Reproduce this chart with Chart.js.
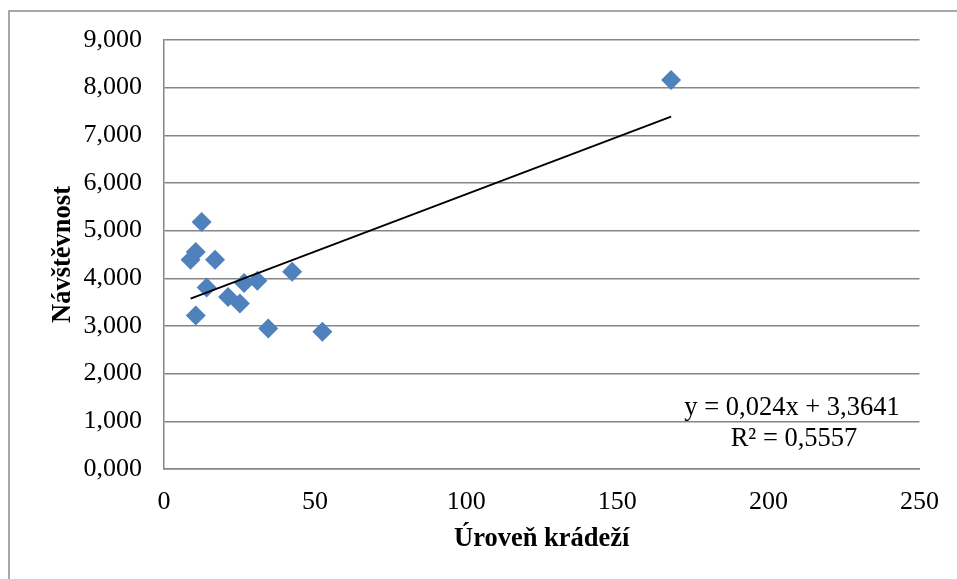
<!DOCTYPE html>
<html lang="cs">
<head>
    <meta charset="UTF-8">
    <title>Návštěvnost a úroveň krádeží</title>
    <script src="https://cdn.jsdelivr.net/npm/chart.js"></script>
    <style>
        html, body {
            margin: 0;
            padding: 0;
            background: #fff;
        }
        .chart-box {
            position: relative;
            width: 957px;
            height: 579px;
        }
    </style>
</head>
<body>
    <div class="chart-box">
        <canvas id="scatterChart"></canvas>
    </div>

    <script>
        // úroveň krádeží (x) a návštěvnost (y)
        const kradeze = [167.8, 12.45, 10.5, 8.8, 16.9, 14.1, 10.5, 21.2, 25.1, 26.5, 30.9, 42.4, 34.5, 52.4];
        const navstevnost = [8.16, 5.18, 4.55, 4.39, 4.39, 3.81, 3.22, 3.61, 3.47, 3.90, 3.95, 4.14, 2.95, 2.88];

        const yTickLabels = ["0,000", "1,000", "2,000", "3,000", "4,000", "5,000", "6,000", "7,000", "8,000", "9,000"];
        const xTickLabels = ["0", "50", "100", "150", "200", "250"];

        // lineární trend
        const slope = 0.024;
        const intercept = 3.3641;
        const rSquared = "0,5557";

        const points = kradeze.map((x, i) => ({ x: x, y: navstevnost[i] }));
        const xMin = Math.min(...kradeze);
        const xMax = Math.max(...kradeze);
        const trend = [
            { x: xMin, y: slope * xMin + intercept },
            { x: xMax, y: slope * xMax + intercept }
        ];

        const serif = "'Liberation Serif', 'Times New Roman', serif";

        // rámeček grafu + rovnice trendu
        const extras = {
            id: "extras",
            beforeDraw(chart) {
                const ctx = chart.ctx;
                ctx.save();
                ctx.strokeStyle = "#8c8c8c";
                ctx.lineWidth = 1.5;
                ctx.beginPath();
                ctx.moveTo(9, 579);
                ctx.lineTo(9, 11);
                ctx.lineTo(957, 11);
                ctx.stroke();
                ctx.restore();
            },
            afterDraw(chart) {
                const ctx = chart.ctx;
                ctx.save();
                ctx.fillStyle = "#000";
                ctx.font = "26.5px " + serif;
                ctx.textAlign = "center";
                ctx.textBaseline = "alphabetic";
                const eq = "y = " + String(slope).replace(".", ",") + "x + " + String(intercept).replace(".", ",");
                ctx.fillText(eq, 792, 415);
                ctx.fillText("R² = " + rSquared, 794, 446);
                ctx.restore();
            }
        };

        new Chart(document.getElementById("scatterChart").getContext("2d"), {
            type: "scatter",
            data: {
                datasets: [
                    {
                        type: "line",
                        data: trend,
                        borderColor: "#000",
                        borderWidth: 1.8,
                        pointRadius: 0,
                        fill: false,
                        order: 0
                    },
                    {
                        data: points,
                        pointStyle: "rectRot",
                        pointRadius: 10,
                        pointHoverRadius: 10,
                        backgroundColor: "#4F81BD",
                        borderColor: "#4F81BD",
                        borderWidth: 0,
                        order: 1
                    }
                ]
            },
            options: {
                responsive: true,
                maintainAspectRatio: false,
                animation: false,
                layout: {
                    padding: { left: 0, top: 40, right: 34, bottom: 0 }
                },
                plugins: {
                    legend: { display: false },
                    tooltip: { enabled: false }
                },
                scales: {
                    x: {
                        type: "linear",
                        min: 0,
                        max: 250,
                        afterFit(scale) { scale.height = 110; },
                        ticks: {
                            stepSize: 50,
                            padding: 18,
                            color: "#000",
                            font: { family: serif, size: 26 },
                            callback: (v, i) => xTickLabels[i]
                        },
                        grid: { display: false, drawTicks: false },
                        border: { display: true, color: "#868686", width: 1.5 },
                        title: {
                            display: true,
                            text: "Úroveň krádeží",
                            color: "#000",
                            font: { family: serif, size: 26.5, weight: "bold" },
                            padding: { top: 0, bottom: 24 }
                        }
                    },
                    y: {
                        min: 0,
                        max: 9,
                        afterFit(scale) { scale.width = 164; },
                        ticks: {
                            stepSize: 1,
                            padding: 22,
                            color: "#000",
                            font: { family: serif, size: 26 },
                            callback: (v, i) => yTickLabels[i]
                        },
                        grid: { color: "#868686", lineWidth: 1.5, drawTicks: false },
                        border: { display: true, color: "#868686", width: 1.5 },
                        title: {
                            display: true,
                            text: "Návštěvnost",
                            color: "#000",
                            font: { family: serif, size: 26.5, weight: "bold" },
                            padding: { top: 47, bottom: 0 }
                        }
                    }
                }
            },
            plugins: [extras]
        });
    </script>
</body>
</html>
